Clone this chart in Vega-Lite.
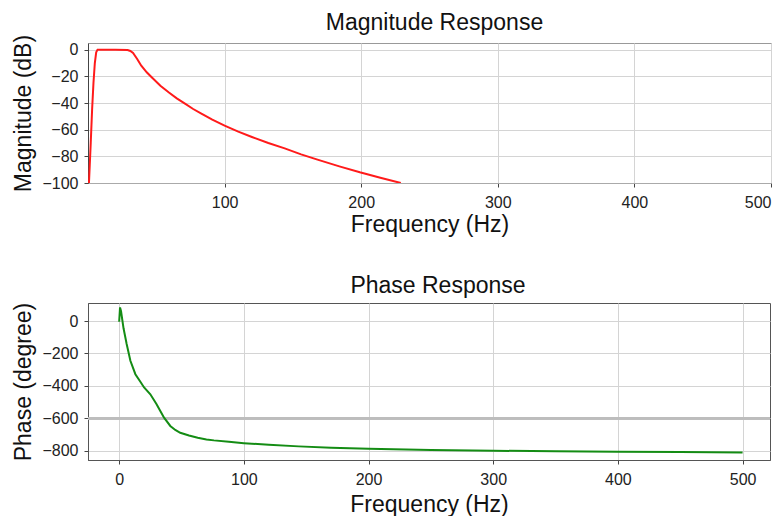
{
  "$schema": "https://vega.github.io/schema/vega-lite/v6.json",
  "padding": {"left": 12, "top": 11, "right": 0, "bottom": 0},
  "background": "white",
  "spacing": 37,
  "config": {
    "font": "Liberation Sans",
    "axis": {
      "labelFont": "Liberation Sans",
      "labelFontSize": 16,
      "labelColor": "#222",
      "labelOverlap": false,
      "titleFont": "Liberation Sans",
      "titleFontSize": 23,
      "titleFontWeight": "normal",
      "titleColor": "#111",
      "tickSize": 4,
      "tickColor": "#444",
      "gridColor": "#d4d4d4",
      "gridWidth": 1,
      "labelPadding": 4
    },
    "title": {"font": "Liberation Sans", "fontSize": 23, "fontWeight": "normal", "color": "#111", "anchor": "middle"}
  },
  "datasets": {
    "mag": [
      {"f": 0.7, "db": -100}, {"f": 2, "db": -70}, {"f": 3, "db": -45}, {"f": 4, "db": -25},
      {"f": 5, "db": -10}, {"f": 6, "db": -2}, {"f": 7, "db": 0}, {"f": 10, "db": 0},
      {"f": 20, "db": 0}, {"f": 29, "db": -0.3}, {"f": 31, "db": -1}, {"f": 33, "db": -2.5},
      {"f": 36, "db": -7}, {"f": 39, "db": -12}, {"f": 43, "db": -17}, {"f": 47, "db": -21},
      {"f": 53, "db": -27}, {"f": 59, "db": -32}, {"f": 65, "db": -36.5}, {"f": 71, "db": -40.5},
      {"f": 77, "db": -44.5}, {"f": 83, "db": -48}, {"f": 91, "db": -52.5}, {"f": 100, "db": -57},
      {"f": 110, "db": -61.5}, {"f": 120, "db": -65.5}, {"f": 132, "db": -70}, {"f": 144, "db": -74},
      {"f": 156, "db": -78.5}, {"f": 168, "db": -82.5}, {"f": 184, "db": -87.5}, {"f": 199, "db": -92},
      {"f": 214, "db": -96}, {"f": 229, "db": -100}
    ],
    "phase": [
      {"f": 0, "deg": -5}, {"f": 0.7, "deg": 84}, {"f": 1.5, "deg": 60}, {"f": 3.5, "deg": -45},
      {"f": 6, "deg": -142}, {"f": 9, "deg": -245}, {"f": 13, "deg": -328}, {"f": 17, "deg": -375},
      {"f": 20, "deg": -410}, {"f": 25, "deg": -452}, {"f": 30, "deg": -513}, {"f": 33, "deg": -555},
      {"f": 36, "deg": -596}, {"f": 41, "deg": -647}, {"f": 45, "deg": -672}, {"f": 49, "deg": -689},
      {"f": 56, "deg": -706}, {"f": 63, "deg": -720}, {"f": 70, "deg": -730}, {"f": 76, "deg": -736},
      {"f": 88, "deg": -745}, {"f": 100, "deg": -753}, {"f": 120, "deg": -763}, {"f": 144, "deg": -773},
      {"f": 170, "deg": -781}, {"f": 200, "deg": -788}, {"f": 250, "deg": -795}, {"f": 300, "deg": -800},
      {"f": 350, "deg": -803}, {"f": 400, "deg": -806}, {"f": 450, "deg": -808}, {"f": 500, "deg": -810}
    ]
  },
  "vconcat": [
    {
      "title": {"text": "Magnitude Response", "dx": 5, "offset": -1},
      "width": 683,
      "height": 140,
      "view": {"stroke": "#999", "strokeWidth": 1},
      "data": {"name": "mag"},
      "mark": {"type": "line", "color": "#ff1a1a", "strokeWidth": 2, "clip": true},
      "encoding": {
        "x": {
          "field": "f", "type": "quantitative",
          "scale": {"domain": [0, 500], "nice": false, "zero": false},
          "axis": {"values": [100, 200, 300, 400, 500], "title": "Frequency (Hz)", "domainColor": "#aaa", "titlePadding": 3, "labelPadding": 7}
        },
        "y": {
          "field": "db", "type": "quantitative",
          "scale": {"domain": [-100, 5], "nice": false, "zero": false},
          "axis": {"values": [-100, -80, -60, -40, -20, 0], "title": "Magnitude (dB)", "domainColor": "#444", "titlePadding": 6, "labelPadding": 6, "labelOverlap": false}
        }
      }
    },
    {
      "title": {"text": "Phase Response", "dx": 9, "offset": 4},
      "width": 682,
      "height": 157,
      "view": {"stroke": "#555", "strokeWidth": 1},
      "data": {"name": "phase"},
      "encoding": {
        "y": {
          "field": "deg", "type": "quantitative",
          "scale": {"domain": [-857, 111], "nice": false, "zero": false},
          "axis": {"values": [-800, -600, -400, -200, 0], "title": "Phase (degree)", "domainColor": "#555", "titlePadding": 6, "labelPadding": 6, "labelOverlap": false}
        }
      },
      "layer": [
        {
          "mark": {"type": "rule", "color": "#bdbdbd", "strokeWidth": 2.5},
          "encoding": {"y": {"datum": -600, "type": "quantitative"}}
        },
        {
          "mark": {"type": "line", "color": "#148c14", "strokeWidth": 2, "clip": true},
          "encoding": {
            "x": {
              "field": "f", "type": "quantitative",
              "scale": {"domain": [-25, 522], "nice": false, "zero": false},
              "axis": {"values": [0, 100, 200, 300, 400, 500], "title": "Frequency (Hz)", "domainColor": "#555", "titlePadding": 6, "labelPadding": 7}
            }
          }
        }
      ]
    }
  ]
}
